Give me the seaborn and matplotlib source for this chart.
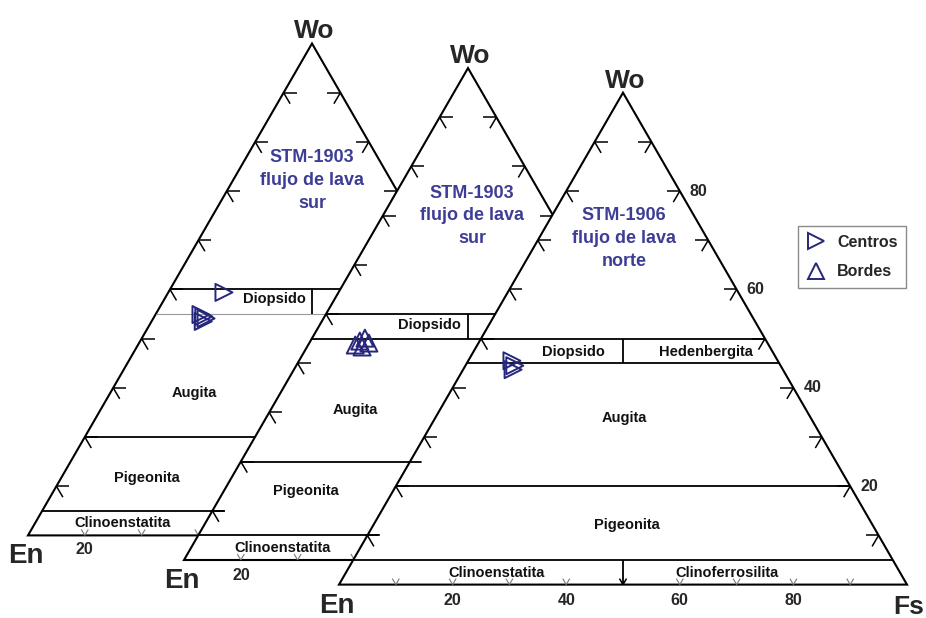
import numpy as np
import pandas as pd
import matplotlib
matplotlib.use("Agg")
import matplotlib.pyplot as plt
import seaborn as sns
from matplotlib.patches import Polygon
from matplotlib.lines import Line2D
from matplotlib.collections import LineCollection

# ---- pyroxene compositions (mol %) -------------------------------------
# STM-1903, south lava flow (first diagram): crystal cores
sur1_tipo = ["Centros", "Centros", "Centros", "Centros", "Centros"]
sur1_wo = [49.4, 44.9, 44.5, 44.1, 43.5]
sur1_en = [40.8, 47.1, 46.8, 46.6, 47.4]
sur1_fs = [9.8, 8.0, 8.7, 9.3, 9.1]

# STM-1903, south lava flow (second diagram): crystal rims
sur2_tipo = ["Bordes", "Bordes", "Bordes", "Bordes", "Bordes"]
sur2_wo = [43.7, 44.5, 45.1, 44.1, 43.3]
sur2_en = [48.0, 46.8, 45.6, 45.4, 47.0]
sur2_fs = [8.3, 8.7, 9.3, 10.5, 9.7]

# STM-1906, north lava flow: crystal cores
norte_tipo = ["Centros", "Centros", "Centros"]
norte_wo = [45.5, 44.5, 43.7]
norte_en = [46.8, 46.8, 47.5]
norte_fs = [7.7, 8.7, 8.8]

# ---- diagram text --------------------------------------------------------
titulos = ["STM-1903\nflujo de lava\nsur",
           "STM-1903\nflujo de lava\nsur",
           "STM-1906\nflujo de lava\nnorte"]
campos_limites_wo = [5, 20, 45, 50]
ticks_pct = [10, 20, 30, 40, 50, 60, 70, 80, 90]
ticks_etiquetas = [20, 40, 60, 80]

# ---- style -----------------------------------------------------------------
sns.set_theme(style="white")
plt.rcParams["font.family"] = ["Liberation Sans", "DejaVu Sans"]
plt.rcParams["font.weight"] = "bold"

NAVY = "#26267c"
TITLE_BLUE = "#3d3d96"
S = 568.0                      # side length of each triangle (px)
H = S * np.sqrt(3) / 2
origins = [(28.0, 535.4), (184.0, 560.0), (339.0, 584.6)]   # En corners

fig = plt.figure(figsize=(9.26, 6.18), dpi=100)
ax = fig.add_axes([0, 0, 1, 1])
ax.set_xlim(0, 926)
ax.set_ylim(618, 0)
ax.axis("off")


def tern(k, wo, fs):
    ex, ey = origins[k]
    return ex + S * (fs + wo / 2.0) / 100.0, ey - H * wo / 100.0


def left_x(k, y):
    ex, ey = origins[k]
    return ex + (ey - y) / H * S / 2.0


def seg(p, q, **kw):
    ax.plot([p[0], q[0]], [p[1], q[1]], solid_capstyle="butt", **kw)


def draw_diagram(k, z, field_labels, tick_lbl_offset, full_scale):
    en, apex, fs = tern(k, 0, 0), tern(k, 100, 0), tern(k, 0, 100)
    ax.add_patch(Polygon([en, apex, fs], closed=True, fc="white", ec="black",
                         lw=1.5, joinstyle="miter", zorder=z))
    # field boundaries
    for wo in campos_limites_wo:
        col, lw = ("#9a9a9a", 0.8) if (k == 0 and wo == 45) else ("black", 1.3)
        seg(tern(k, wo, 0), tern(k, wo, 100 - wo), color=col, lw=lw, zorder=z + 1)
    # En = Fs dividers
    seg(tern(k, 45, 27.5), tern(k, 50, 25), color="black", lw=1.3, zorder=z + 1)
    seg(tern(k, 0, 50), tern(k, 5, 47.5), color="black", lw=1.3, zorder=z + 1)
    # arrow ticks on the edges
    dark, light = [], []
    for t in ticks_pct:
        px, py = tern(k, t, 0)                 # En-Wo edge
        dark += [[(px, py), (px + 13, py)], [(px, py), (px + 6.5, py + 11)]]
        px, py = tern(k, t, 100 - t)           # Wo-Fs edge
        dark += [[(px, py), (px - 13, py)], [(px, py), (px - 6.5, py + 11)]]
        px, py = tern(k, 0, t)                 # En-Fs edge
        v = [[(px, py), (px - 3.5, py - 6)], [(px, py), (px + 3.5, py - 6)]]
        if t == 50:
            dark += v
        else:
            light += v
    ax.add_collection(LineCollection(dark, colors="black", lw=1.1, zorder=z + 1))
    ax.add_collection(LineCollection(light, colors="#7a7a7a", lw=0.8, zorder=z + 1))
    # field names
    ex, ey = origins[k]
    for txt, dx, dy in field_labels:
        ax.text(ex + dx, ey + dy, txt, ha="center", va="center", fontsize=10.5,
                fontweight="bold", color="#111111", zorder=z + 2)
    # title
    tx, ty = title_pos[k]
    ax.text(ex + tx, ey + ty, titulos[k], ha="center", va="center", fontsize=13,
            fontweight="bold", color=TITLE_BLUE, linespacing=1.45, zorder=z + 2)
    # corner labels
    ax.text(apex[0] + 2, apex[1] - 5, "Wo", ha="center", va="baseline",
            fontsize=19, fontweight="bold", zorder=z + 2)
    ax.text(en[0] - 2, en[1] + 28, "En", ha="center", va="baseline",
            fontsize=20, fontweight="bold", zorder=z + 2)
    # scale labels
    if full_scale:
        for v in ticks_etiquetas:
            bx, by = tern(k, 0, v)
            ax.text(bx, by + 16, str(v), ha="center", va="center",
                    fontsize=11.5, fontweight="bold", zorder=z + 2)
            rx, ry = tern(k, v, 100 - v)
            ax.text(rx + 19, ry, str(v), ha="center", va="center",
                    fontsize=11.5, fontweight="bold", zorder=z + 2)
        ax.text(924, fs[1] + 29, "Fs", ha="right", va="baseline",
                fontsize=19, fontweight="bold", zorder=z + 2)
    else:
        ax.text(ex + tick_lbl_offset[0], ey + tick_lbl_offset[1], "20",
                ha="center", va="center", fontsize=11.5, fontweight="bold",
                zorder=z + 2)


title_pos = [(284, -355), (288, -344), (285, -346)]

labels_1 = [("Diopsido", 246, -236), ("Augita", 166, -142),
            ("Pigeonita", 119, -57), ("Clinoenstatita", 95, -12)]
labels_2 = [("Diopsido", 245, -235), ("Augita", 171, -150),
            ("Pigeonita", 122, -69), ("Clinoenstatita", 99, -12)]
labels_3 = [("Diopsido", 234, -233), ("Hedenbergita", 367, -233),
            ("Augita", 285, -167), ("Pigeonita", 288, -60),
            ("Clinoenstatita", 158, -12), ("Clinoferrosilita", 388, -12)]

draw_diagram(0, 10, labels_1, (56, 14), False)
draw_diagram(1, 20, labels_2, (57, 15), False)
draw_diagram(2, 30, labels_3, None, True)

# boundary lines of the rear diagrams running slightly past the next one
for k, wo, extra in [(0, 5, 12), (1, 5, 11), (1, 20, 11)]:
    y = tern(k, wo, 0)[1]
    x0 = left_x(k + 1, y)
    ax.plot([x0 - 1, x0 + extra], [y, y], color="black", lw=1.3, zorder=40)

# ---- analyses --------------------------------------------------------------
frames = []
for k, (tipo, wo, en, fs) in enumerate([(sur1_tipo, sur1_wo, sur1_en, sur1_fs),
                                        (sur2_tipo, sur2_wo, sur2_en, sur2_fs),
                                        (norte_tipo, norte_wo, norte_en, norte_fs)]):
    d = pd.DataFrame({"tipo": tipo, "Wo": wo, "En": en, "Fs": fs})
    xy = [tern(k, w, f) for w, f in zip(d["Wo"], d["Fs"])]
    d["x"] = [p[0] for p in xy]
    d["y"] = [p[1] for p in xy]
    frames.append(d)
df = pd.concat(frames, ignore_index=True)

sns.scatterplot(data=df, x="x", y="y", style="tipo",
                markers={"Centros": ">", "Bordes": "^"}, s=150,
                color=NAVY, legend=False, ax=ax, zorder=50)
pts = ax.collections[-1]
pts.set_facecolor("none")
pts.set_edgecolor(NAVY)
pts.set_linewidth(1.4)
ax.set_xlim(0, 926)
ax.set_ylim(618, 0)
ax.axis("off")

handles = [Line2D([], [], ls="none", marker=">", ms=12, mfc="none", mec=NAVY,
                  mew=1.4, label="Centros"),
           Line2D([], [], ls="none", marker="^", ms=12, mfc="none", mec=NAVY,
                  mew=1.4, label="Bordes")]
leg = fig.legend(handles=handles, loc="upper left",
                 bbox_to_anchor=(798 / 926, 1 - 226 / 618),
                 borderaxespad=0.0,
                 frameon=True, fancybox=False, framealpha=1,
                 edgecolor="#8a8a8a", borderpad=0.55, labelspacing=0.9,
                 handlelength=1.2, handletextpad=0.7,
                 prop={"weight": "bold", "size": 11.5})
leg.get_frame().set_linewidth(1.0)

fig.savefig("out.png", dpi=100, facecolor="white")
